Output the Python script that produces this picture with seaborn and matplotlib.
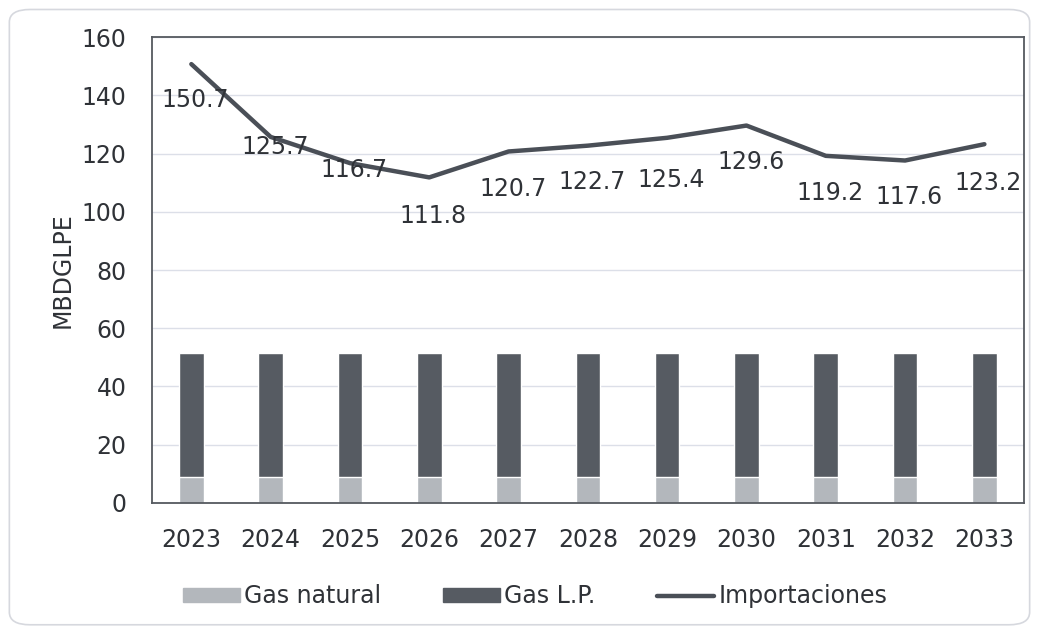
import numpy as np
import pandas as pd
import seaborn as sns
import matplotlib.pyplot as plt
from matplotlib.patches import FancyBboxPatch, Patch
from matplotlib.lines import Line2D

# Datos
anios = ['2023', '2024', '2025', '2026', '2027', '2028', '2029', '2030', '2031', '2032', '2033']
gas_natural = [8.9, 8.9, 8.9, 8.9, 8.9, 8.9, 8.9, 8.9, 8.9, 8.9, 8.9]
gas_lp = [42.6, 42.6, 42.6, 42.6, 42.6, 42.6, 42.6, 42.6, 42.6, 42.6, 42.6]
importaciones = [150.7, 125.7, 116.7, 111.8, 120.7, 122.7, 125.4, 129.6, 119.2, 117.6, 123.2]

c_nat = '#b3b7bc'
c_lp = '#565b62'
c_line = '#4a4f57'
c_text = '#2f3237'

sns.set_style('white')
plt.rcParams['font.family'] = ['DejaVu Sans']

df = pd.DataFrame({'anio': anios, 'nat': gas_natural, 'lp': gas_lp, 'imp': importaciones})
df['total'] = df['nat'] + df['lp']

fig = plt.figure(figsize=(10.39, 6.33), dpi=100)
ax = fig.add_axes([0.146, 0.2054, 0.8396, 0.7361])

# Borde exterior redondeado
fig.patches.append(FancyBboxPatch((0.009, 0.013), 0.982, 0.972, boxstyle='round,pad=0,rounding_size=0.02',
                                  transform=fig.transFigure, fill=False, edgecolor='#d6d8de', linewidth=1.2))

sns.barplot(data=df, x='anio', y='total', color=c_lp, width=0.31, saturation=1, ax=ax)
sns.barplot(data=df, x='anio', y='nat', color=c_nat, width=0.31, saturation=1, ax=ax)
sns.lineplot(x=np.arange(len(anios)), y=df['imp'], color=c_line, linewidth=3.2, ax=ax)

# Etiquetas de importaciones (desplazamiento en px hacia abajo)
desplaz = [36, 10, 7, 39, 38, 36, 42, 36, 37, 36, 39]
for i, v in enumerate(importaciones):
    ax.annotate(f'{v:.1f}', (i, v), xytext=(3, -desplaz[i] * 0.72), textcoords='offset points',
                ha='center', va='center', fontsize=17, color=c_text)

ax.set_xlim(-0.5, len(anios) - 0.5)
ax.set_ylim(0, 160)
ax.set_yticks(range(0, 161, 20))
ax.grid(axis='y', color='#dcdfe8', linewidth=1)
ax.set_axisbelow(True)
for s in ax.spines.values():
    s.set_visible(True)
    s.set_color('#55595f')
    s.set_linewidth(1.3)
ax.tick_params(axis='both', labelsize=17, colors=c_text, length=0)
ax.tick_params(axis='y', pad=18)
ax.tick_params(axis='x', pad=18)
ax.set_xlabel('')
ax.set_ylabel('MBDGLPE', fontsize=17, color=c_text, labelpad=5)

handles = [Patch(color=c_nat), Patch(color=c_lp), Line2D([0], [0], color=c_line, linewidth=3.2)]
fig.legend(handles, ['Gas natural', 'Gas L.P.', 'Importaciones'], loc='center', bbox_to_anchor=(0.515, 0.058),
           ncol=3, frameon=False, fontsize=17, handlelength=2.4, handleheight=0.5, handletextpad=0.2,
           columnspacing=2.6, labelcolor=c_text)

fig.savefig('out.png', dpi=100)
